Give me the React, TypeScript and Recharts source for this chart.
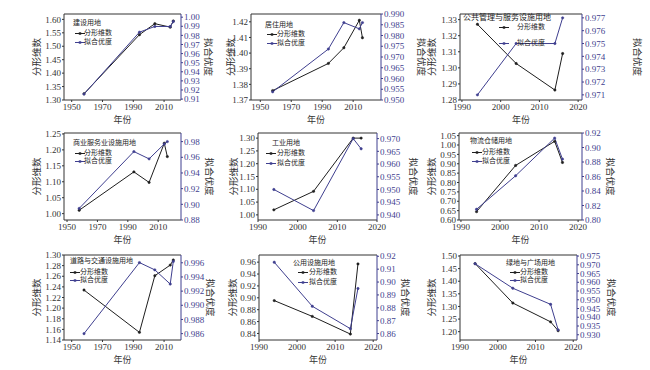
import { LineChart, Line, XAxis, YAxis, ReferenceLine, Legend } from "recharts";

const FONT = '"Liberation Serif", "Noto Sans CJK SC", serif';
const BLACK = "#1e1e1e";
const BLUE = "#3f3f8f";

const yearsLong = [1958, 1994, 2004, 2014, 2016];
const yearsShort = [1994, 2004, 2014, 2016];
const longTicks = [1950, 1970, 1990, 2010];
const shortTicks = [1990, 2000, 2010, 2020];

// 分形维数 / 拟合优度 per land type
const jiansheFd = [1.323, 1.543, 1.584, 1.571, 1.594];
const jiansheFit = [0.9155, 0.9835, 0.9898, 0.9898, 0.9952];
const juzhuFd = [1.376, 1.3934, 1.4034, 1.421, 1.4098];
const juzhuFit = [0.9538, 0.9737, 0.986, 0.9831, 0.986];
const gonggongFd = [1.3271, 1.3027, 1.2862, 1.3089];
const gonggongFit = [0.971, 0.975, 0.975, 0.977];
const shangyeFd = [1.0106, 1.131, 1.098, 1.221, 1.179];
const shangyeFit = [0.8948, 0.9673, 0.958, 0.977, 0.98];
const gongyeFd = [1.0197, 1.092, 1.3, 1.3];
const gongyeFit = [0.95, 0.9417, 0.97, 0.966];
const wuliuFd = [0.6446, 0.891, 1.0196, 0.907];
const wuliuFit = [0.8148, 0.861, 0.913, 0.884];
const daoluFd = [1.234, 1.1544, 1.261, 1.281, 1.2905];
const daoluFit = [0.986, 0.99603, 0.995, 0.993, 0.9962];
const gongyongFd = [0.8953, 0.8687, 0.839, 0.957];
const gongyongFit = [0.9154, 0.8812, 0.8638, 0.895];
const lvdiFd = [1.47, 1.3136, 1.239, 1.204];
const lvdiFit = [0.9706, 0.9566, 0.9474, 0.9328];

const panels = [
  {
    title: "建设用地", years: yearsLong, fd: jiansheFd, fit: jiansheFit,
    x1: 64, x2: 181, y1: 14, y2: 100, xDomain: [1945, 2021], xTicks: longTicks,
    lDomain: [1.3, 1.62], lTicks: [1.3, 1.35, 1.4, 1.45, 1.5, 1.55, 1.6],
    rDomain: [0.909, 1.0035], rTicks: [0.91, 0.92, 0.93, 0.94, 0.95, 0.96, 0.97, 0.98, 0.99, 1.0], rDigits: 2,
    ltOff: 27, rtOff: 27, leg: { tx: 73, ty: 23, mx: 75, lx: 84, rows: [33, 42], fs: 7 },
  },
  {
    title: "居住用地", years: yearsLong, fd: juzhuFd, fit: juzhuFit,
    x1: 251, x2: 381, y1: 14, y2: 100, xDomain: [1944, 2028], xTicks: longTicks,
    lDomain: [1.37, 1.425], lTicks: [1.37, 1.38, 1.39, 1.4, 1.41, 1.42],
    rDomain: [0.95, 0.99], rTicks: [0.95, 0.955, 0.96, 0.965, 0.97, 0.975, 0.98, 0.985, 0.99], rDigits: 3,
    ltOff: 20, rtOff: 40, leg: { tx: 265, ty: 25, mx: 267, lx: 277, rows: [34, 43], fs: 7 },
  },
  {
    title: "公共管理与服务设施用地", years: yearsShort, fd: gonggongFd, fit: gonggongFit,
    x1: 460, x2: 582, y1: 14, y2: 100, xDomain: [1989.5, 2021], xTicks: shortTicks,
    lDomain: [1.28, 1.3335], lTicks: [1.28, 1.29, 1.3, 1.31, 1.32, 1.33],
    rDomain: [0.9706, 0.9773], rTicks: [0.971, 0.972, 0.973, 0.974, 0.975, 0.976, 0.977], rDigits: 3,
    ltOff: 28, rtOff: 55, leg: { tx: 463, ty: 18, mx: 499, lx: 517, rows: [27, 43], fs: 7, tfs: 8 },
  },
  {
    title: "商业服务业设施用地", years: yearsLong, fd: shangyeFd, fit: shangyeFit,
    x1: 64, x2: 181, y1: 133, y2: 220, xDomain: [1948, 2025], xTicks: longTicks,
    lDomain: [0.98, 1.253], lTicks: [1.0, 1.05, 1.1, 1.15, 1.2, 1.25],
    rDomain: [0.88, 0.991], rTicks: [0.88, 0.9, 0.92, 0.94, 0.96, 0.98], rDigits: 2,
    ltOff: 27, rtOff: 28, leg: { tx: 73, ty: 143, mx: 75, lx: 84, rows: [153, 161], fs: 7 },
  },
  {
    title: "工业用地", years: yearsShort, fd: gongyeFd, fit: gongyeFit,
    x1: 258, x2: 377, y1: 133, y2: 220, xDomain: [1990, 2020], xTicks: shortTicks,
    lDomain: [0.98, 1.32], lTicks: [1.0, 1.05, 1.1, 1.15, 1.2, 1.25, 1.3],
    rDomain: [0.938, 0.9722], rTicks: [0.94, 0.945, 0.95, 0.955, 0.96, 0.965, 0.97], rDigits: 3,
    ltOff: 24, rtOff: 36, leg: { tx: 272, ty: 143, mx: 266, lx: 277, rows: [153, 163], fs: 7 },
  },
  {
    title: "物流仓储用地", years: yearsShort, fd: wuliuFd, fit: wuliuFit,
    x1: 459, x2: 582, y1: 133, y2: 220, xDomain: [1989.5, 2021], xTicks: shortTicks,
    lDomain: [0.6, 1.064], lTicks: [0.6, 0.65, 0.7, 0.75, 0.8, 0.85, 0.9, 0.95, 1.0, 1.05],
    rDomain: [0.8, 0.92], rTicks: [0.8, 0.82, 0.84, 0.86, 0.88, 0.9, 0.92], rDigits: 2,
    ltOff: 27, rtOff: 28, leg: { tx: 470, ty: 141, mx: 472, lx: 482, rows: [152, 161], fs: 7 },
  },
  {
    title: "道路与交通设施用地", years: yearsLong, fd: daoluFd, fit: daoluFit,
    x1: 64, x2: 181, y1: 255, y2: 340, xDomain: [1945, 2021], xTicks: longTicks,
    lDomain: [1.14, 1.3], lTicks: [1.14, 1.16, 1.18, 1.2, 1.22, 1.24, 1.26, 1.28, 1.3],
    rDomain: [0.9851, 0.9971], rTicks: [0.986, 0.988, 0.99, 0.992, 0.994, 0.996], rDigits: 3,
    ltOff: 27, rtOff: 29, leg: { tx: 70, ty: 261, mx: 70, lx: 80, rows: [272, 280], fs: 7 },
  },
  {
    title: "公用设施用地", years: yearsShort, fd: gongyongFd, fit: gongyongFit,
    x1: 259, x2: 377, y1: 255, y2: 340, xDomain: [1990, 2021], xTicks: shortTicks,
    lDomain: [0.829, 0.972], lTicks: [0.84, 0.86, 0.88, 0.9, 0.92, 0.94, 0.96],
    rDomain: [0.855, 0.921], rTicks: [0.86, 0.87, 0.88, 0.89, 0.9, 0.91, 0.92], rDigits: 2,
    ltOff: 26, rtOff: 28, leg: { tx: 293, ty: 263, mx: 298, lx: 309, rows: [272, 282], fs: 7 },
  },
  {
    title: "绿地与广场用地", years: yearsShort, fd: lvdiFd, fit: lvdiFit,
    x1: 460, x2: 577, y1: 255, y2: 340, xDomain: [1990, 2021], xTicks: shortTicks,
    lDomain: [1.167, 1.504], lTicks: [1.2, 1.25, 1.3, 1.35, 1.4, 1.45, 1.5],
    rDomain: [0.927, 0.9756], rTicks: [0.93, 0.935, 0.94, 0.945, 0.95, 0.955, 0.96, 0.965, 0.97, 0.975], rDigits: 3,
    ltOff: 28, rtOff: 34, leg: { tx: 506, ty: 263, mx: 510, lx: 520, rows: [272, 280], fs: 7 },
  },
];

const LW = 50;
const RW = 70;
const MT = 6;
const XH = 26;

function Marker({ color }: { color: string }) {
  return (
    <svg width={10} height={5} style={{ display: "block" }}>
      <line x1={0} y1={2.5} x2={10} y2={2.5} stroke={color} strokeWidth={1} />
      <rect x={3.8} y={1.3} width={2.4} height={2.4} fill={color} />
    </svg>
  );
}

function Panel({ p }: { p: any }) {
  const W = p.x2 - p.x1 + LW + RW;
  const H = p.y2 - p.y1 + MT + XH;
  const left = p.x1 - LW;
  const top = p.y1 - MT;
  const data = p.years.map((year: number, i: number) => ({ year, fd: p.fd[i], fit: p.fit[i] }));
  const leg = p.leg;

  const legendContent = () => (
    <div style={{ position: "relative", width: W, height: H, fontFamily: FONT, color: "#222" }}>
      <div style={{ position: "absolute", left: leg.tx - left, top: leg.ty - top - 5, fontSize: leg.tfs || leg.fs, lineHeight: "10px", whiteSpace: "nowrap" }}>
        {p.title}
      </div>
      {[["分形维数", BLACK], ["拟合优度", BLUE]].map(([name, color], i) => (
        <div key={name} style={{ position: "absolute", left: leg.mx - left, top: leg.rows[i] - top - 5, height: 10, display: "flex", alignItems: "center", whiteSpace: "nowrap" }}>
          <Marker color={color} />
          <span style={{ position: "absolute", left: leg.lx - leg.mx, fontSize: leg.fs, lineHeight: "10px" }}>{name}</span>
        </div>
      ))}
    </div>
  );

  return (
    <div style={{ position: "absolute", left, top, width: W, height: H }}>
      <LineChart width={W} height={H} data={data} margin={{ top: MT, right: 0, bottom: 0, left: 0 }}>
        <XAxis
          dataKey="year" type="number" domain={p.xDomain} ticks={p.xTicks} allowDataOverflow interval={0}
          height={XH} tickSize={2} tickMargin={2} stroke="#333" tick={{ fontSize: 9, fill: "#333" }}
          label={{ value: "年份", position: "insideBottom", offset: 3, style: { fontSize: 9, fill: "#333" } }}
        />
        <YAxis
          yAxisId="l" orientation="left" width={LW} domain={p.lDomain} ticks={p.lTicks} allowDataOverflow interval={0}
          tickSize={2} tickMargin={1} stroke="#333" tick={{ fontSize: 9, fill: "#333" }}
          tickFormatter={(v: number) => v.toFixed(2)}
          label={{ value: "分形维数", angle: -90, position: "insideLeft", offset: LW - p.ltOff, style: { fontSize: 9.5, fill: "#333", textAnchor: "middle" } }}
        />
        <YAxis
          yAxisId="r" orientation="right" width={RW} domain={p.rDomain} ticks={p.rTicks} allowDataOverflow interval={0}
          tickSize={2} tickMargin={1} stroke={BLUE} tick={{ fontSize: 9, fill: BLUE }}
          tickFormatter={(v: number) => v.toFixed(p.rDigits)}
          label={{ value: "拟合优度", angle: 90, position: "insideRight", offset: RW - p.rtOff, style: { fontSize: 9.5, fill: "#333", textAnchor: "middle" } }}
        />
        <ReferenceLine yAxisId="l" y={p.lDomain[1]} stroke="#333" />
        <Line yAxisId="l" type="linear" dataKey="fd" stroke={BLACK} strokeWidth={1} dot={{ r: 1.2, fill: BLACK, stroke: BLACK, strokeWidth: 0.5 }} isAnimationActive={false} />
        <Line yAxisId="r" type="linear" dataKey="fit" stroke={BLUE} strokeWidth={1} dot={{ r: 1.2, fill: BLUE, stroke: BLUE, strokeWidth: 0.5 }} isAnimationActive={false} />
        <Legend layout="vertical" align="center" verticalAlign="middle" content={legendContent} wrapperStyle={{ left: 0, top: 0, width: W, height: H, pointerEvents: "none" }} />
      </LineChart>
    </div>
  );
}

export default function App() {
  return (
    <div style={{ position: "absolute", left: 0, top: 0, width: 650, height: 370, background: "#fff", fontFamily: FONT, overflow: "hidden" }}>
      {panels.map((p) => (
        <Panel key={p.title} p={p} />
      ))}
    </div>
  );
}
